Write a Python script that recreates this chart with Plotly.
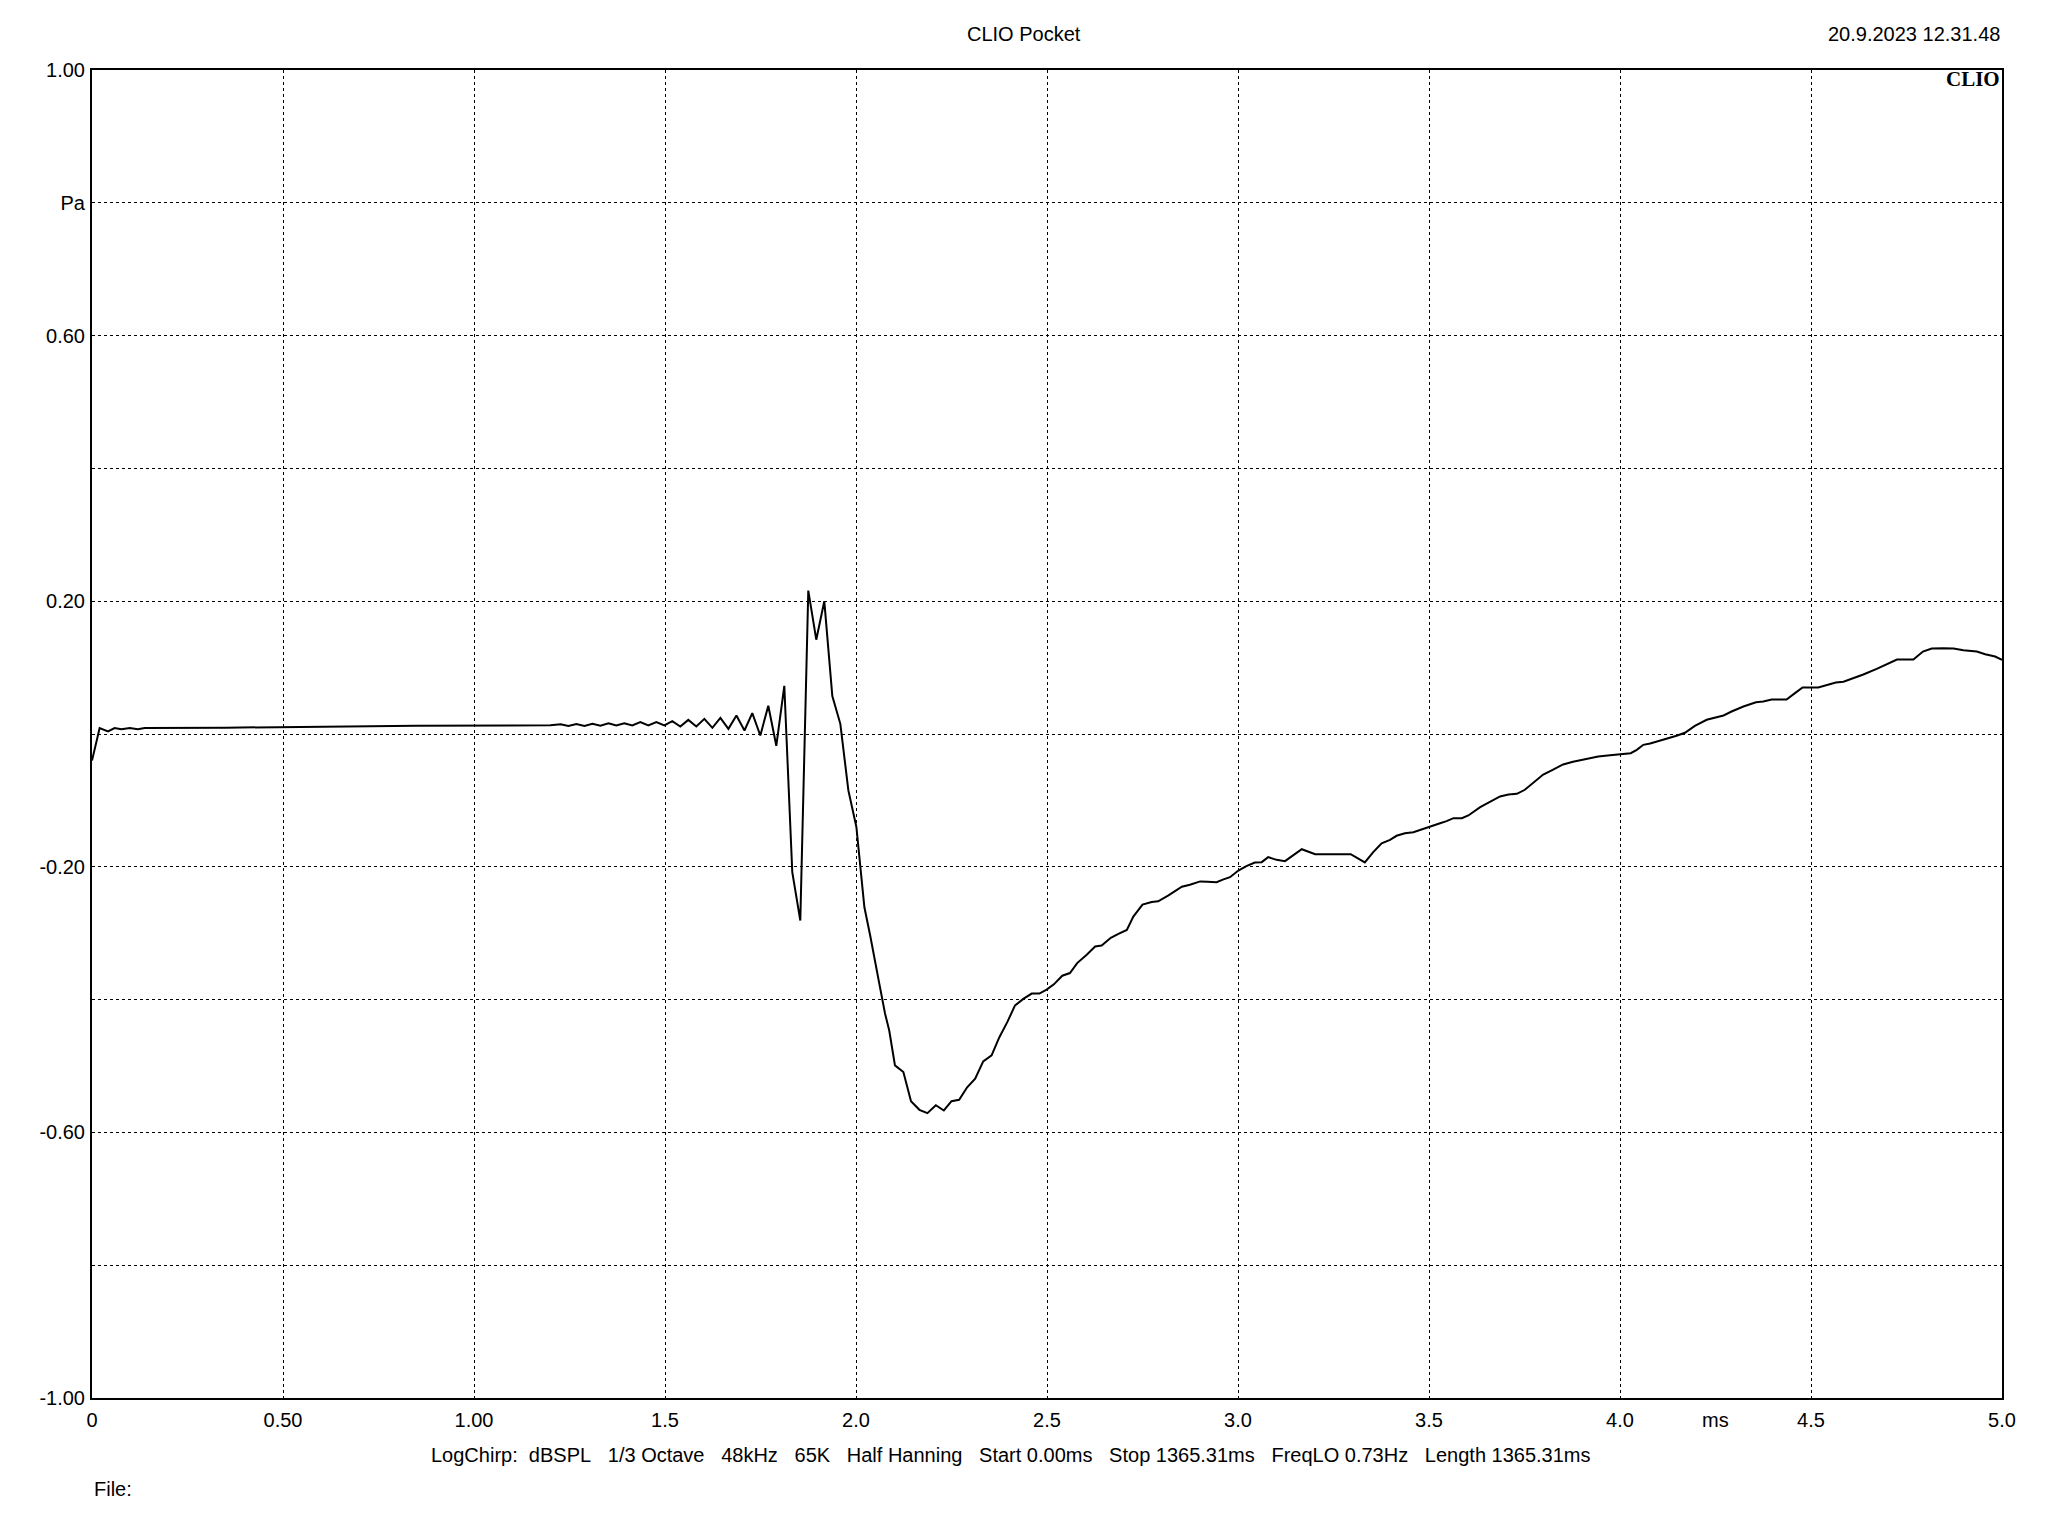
import plotly.graph_objects as go

# Impulse response (time in ms, pressure in Pa)
t_ms = [0.000, 0.020, 0.042, 0.059, 0.077, 0.099, 0.120, 0.138, 0.350, 0.600, 0.850, 1.200,
        1.227, 1.247, 1.268, 1.289, 1.310, 1.331, 1.352, 1.3725, 1.3935, 1.4144, 1.4354, 1.4563,
        1.4773, 1.4982, 1.5191, 1.5401, 1.561, 1.582, 1.603, 1.624, 1.645, 1.666, 1.687, 1.708,
        1.7285, 1.7495, 1.7704, 1.7914, 1.8123, 1.8332, 1.8542, 1.8751, 1.896, 1.917, 1.938,
        1.959, 1.980, 2.001, 2.022, 2.037, 2.050, 2.061, 2.076, 2.087, 2.102, 2.124, 2.144,
        2.166, 2.187, 2.209, 2.230, 2.250, 2.270, 2.291, 2.312, 2.333, 2.355, 2.375, 2.396,
        2.416, 2.438, 2.460, 2.480, 2.499, 2.518, 2.540, 2.560, 2.579, 2.604, 2.626, 2.643,
        2.667, 2.687, 2.709, 2.726, 2.750, 2.774, 2.791, 2.818, 2.853, 2.874, 2.901, 2.920,
        2.944, 2.962, 2.979, 3.001, 3.022, 3.044, 3.062, 3.079, 3.101, 3.123, 3.145, 3.167,
        3.202, 3.241, 3.295, 3.332, 3.354, 3.376, 3.398, 3.415, 3.437, 3.459, 3.481, 3.503,
        3.529, 3.546, 3.564, 3.586, 3.603, 3.634, 3.660, 3.686, 3.708, 3.730, 3.751, 3.777,
        3.799, 3.825, 3.851, 3.877, 3.913, 3.943, 3.974, 4.002, 4.028, 4.044, 4.061, 4.079,
        4.105, 4.131, 4.148, 4.170, 4.196, 4.227, 4.253, 4.271, 4.292, 4.323, 4.356, 4.375,
        4.397, 4.436, 4.458, 4.478, 4.519, 4.541, 4.565, 4.585, 4.611, 4.637, 4.672, 4.703,
        4.725, 4.742, 4.768, 4.793, 4.816, 4.846, 4.873, 4.899, 4.934, 4.956, 4.982, 5.000]

p_pa = [-0.040, 0.009, 0.004, 0.009, 0.007, 0.009, 0.007, 0.009, 0.0095, 0.011, 0.0125, 0.013,
        0.0145, 0.012, 0.015, 0.012, 0.0155, 0.0125, 0.0163, 0.0128, 0.0163, 0.0128, 0.0178, 0.0128,
        0.0178, 0.0128, 0.0193, 0.0113, 0.0213, 0.0113, 0.0228, 0.0093, 0.0243, 0.0078, 0.0279, 0.0053,
        0.0314, -0.0023, 0.0425, -0.0178, 0.0726, -0.208, -0.281, 0.216, 0.142, 0.200, 0.057,
        0.0153, -0.085, -0.140, -0.261, -0.303, -0.346, -0.376, -0.421, -0.4465, -0.499, -0.509, -0.553,
        -0.566, -0.571, -0.559, -0.567, -0.553, -0.551, -0.532, -0.519, -0.493, -0.484, -0.457, -0.434,
        -0.409, -0.399, -0.391, -0.391, -0.385, -0.377, -0.364, -0.360, -0.345, -0.3325, -0.320, -0.3185,
        -0.307, -0.301, -0.295, -0.275, -0.257, -0.253, -0.252, -0.243, -0.230, -0.227, -0.222, -0.2226,
        -0.2232, -0.219, -0.2157, -0.2056, -0.199, -0.1935, -0.1930, -0.1855, -0.1895, -0.1915, -0.182, -0.1735,
        -0.181, -0.181, -0.181, -0.1935, -0.178, -0.1645, -0.1594, -0.1533, -0.1494, -0.1479, -0.1434, -0.1393,
        -0.1343, -0.1313, -0.1268, -0.1268, -0.1227, -0.1102, -0.1017, -0.0941, -0.0911, -0.0901, -0.0840, -0.0711,
        -0.0610, -0.0535, -0.0459, -0.0419, -0.0374, -0.0339, -0.0319, -0.0304, -0.0289, -0.0238, -0.0163, -0.0143,
        -0.0098, -0.0063, -0.0027, 0.0018, 0.0123, 0.0214, 0.0253, 0.0279, 0.0339, 0.0414, 0.0479, 0.0489,
        0.0520, 0.0520, 0.0615, 0.0700, 0.0700, 0.0741, 0.0776, 0.0786, 0.0840, 0.0896, 0.0982, 0.1057,
        0.1122, 0.1122, 0.1122, 0.1242, 0.1288, 0.1292, 0.1288, 0.1262, 0.1242, 0.1202, 0.1167, 0.1117]

x_tickvals = [0, 0.5, 1.0, 1.5, 2.0, 2.5, 3.0, 3.5, 4.0, 4.5, 5.0]
x_ticktext = ["0", "0.50", "1.00", "1.5", "2.0", "2.5", "3.0", "3.5", "4.0", "4.5", "5.0"]
y_tickvals = [-1.0, -0.8, -0.6, -0.4, -0.2, 0.0, 0.2, 0.4, 0.6, 0.8, 1.0]
y_ticktext = ["-1.00", "", "-0.60", "", "-0.20", "", "0.20", "", "0.60", "Pa", "1.00"]

title_text = "CLIO Pocket"
date_text = "20.9.2023 12.31.48"
x_unit = "ms"
info_text = "LogChirp:  dBSPL   1/3 Octave   48kHz   65K   Half Hanning   Start 0.00ms   Stop 1365.31ms   FreqLO 0.73Hz   Length 1365.31ms"
file_text = "File:"

FONT = "Liberation Sans, Arial, sans-serif"
FS = 20
W, H = 2048, 1536
L, R, T, B = 92, 46, 70, 138
plot_h = H - T - B
plot_w = W - L - R

fig = go.Figure()
fig.add_trace(go.Scatter(x=t_ms, y=p_pa, mode="lines",
                         line=dict(color="black", width=2), hoverinfo="skip"))

axis_common = dict(showgrid=True, gridcolor="black", gridwidth=1, griddash="3px,3px",
                   showline=True, linecolor="black", linewidth=2, mirror=True,
                   zeroline=False, ticks="", tickfont=dict(family=FONT, size=FS, color="black"))

fig.update_xaxes(range=[0, 5], tickmode="array", tickvals=x_tickvals, ticktext=x_ticktext,
                 ticklabelstandoff=3, **axis_common)
fig.update_yaxes(range=[-1, 1], tickmode="array", tickvals=y_tickvals, ticktext=y_ticktext,
                 ticklabelstandoff=1, **axis_common)

nb = lambda s: s.replace(" ", "\u00a0")

ann = [
    dict(text=title_text, xref="paper", yref="paper", x=(1024 - L) / plot_w, y=1,
         yshift=T - 34, xanchor="center", yanchor="middle", showarrow=False,
         font=dict(family=FONT, size=FS, color="black")),
    dict(text=date_text, xref="paper", yref="paper", x=1.0, y=1, yshift=T - 34,
         xanchor="right", yanchor="middle", showarrow=False,
         font=dict(family=FONT, size=FS, color="black")),
    dict(text="<b>CLIO</b>", xref="paper", yref="paper", x=1.0, xshift=0, y=1, yshift=-9,
         xanchor="right", yanchor="middle", showarrow=False,
         font=dict(family="Liberation Serif, Times New Roman, serif", size=21, color="black")),
    dict(text=x_unit, xref="x", yref="paper", x=4.25, y=0, yshift=-(1420 - (H - B)),
         xanchor="center", yanchor="middle", showarrow=False,
         font=dict(family=FONT, size=FS, color="black")),
    dict(text=nb(info_text), xref="paper", yref="paper", x=(1011 - L) / plot_w, y=0,
         yshift=-(1455 - (H - B)), xanchor="center", yanchor="middle", showarrow=False,
         font=dict(family=FONT, size=FS, color="black")),
    dict(text=file_text, xref="paper", yref="paper", x=0, y=0, yshift=-(1489 - (H - B)),
         xanchor="left", yanchor="middle", showarrow=False,
         font=dict(family=FONT, size=FS, color="black")),
]

fig.update_layout(width=W, height=H, margin=dict(l=L, r=R, t=T, b=B, pad=0),
                  plot_bgcolor="white", paper_bgcolor="white", showlegend=False,
                  font=dict(family=FONT, size=FS, color="black"), annotations=ann)

fig.write_html("out.html", config={"displayModeBar": False},
               post_script="document.body.style.margin='0';")
